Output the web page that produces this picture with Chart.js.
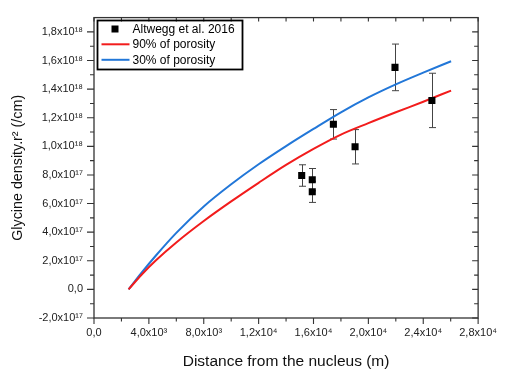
<!DOCTYPE html>
<html>
<head>
<meta charset="utf-8">
<script src="https://cdn.jsdelivr.net/npm/chart.js@4.4.1/dist/chart.umd.min.js"></script>
<style>
  html, body { margin: 0; padding: 0; background: #fff; }
  #wrap { width: 505px; height: 374px; }
</style>
</head>
<body>
<div id="wrap"><canvas id="c" width="505" height="374"></canvas></div>
<script>
// ---- data ----
const xTickValues = [0, 4000, 8000, 12000, 16000, 20000, 24000, 28000];
const xTickLabels = ['0,0', '4,0x10³', '8,0x10³', '1,2x10⁴', '1,6x10⁴', '2,0x10⁴', '2,4x10⁴', '2,8x10⁴'];
const yTickValues = [-2e17, 0, 2e17, 4e17, 6e17, 8e17, 1e18, 1.2e18, 1.4e18, 1.6e18, 1.8e18];
const yTickLabels = ['-2,0x10¹⁷', '0,0', '2,0x10¹⁷', '4,0x10¹⁷', '6,0x10¹⁷', '8,0x10¹⁷',
                     '1,0x10¹⁸', '1,2x10¹⁸', '1,4x10¹⁸', '1,6x10¹⁸', '1,8x10¹⁸'];

const obsX   = [15140, 15910, 15910, 17450, 19030, 21940, 24630];
const obsY   = [7.96e17, 7.67e17, 6.82e17, 11.54e17, 9.97e17, 15.52e17, 13.21e17];
const obsErr = [0.75e17, 0.78e17, 0.74e17, 1.03e17, 1.2e17, 1.63e17, 1.9e17];

const redX  = [2520, 3500, 4500, 6000, 8000, 10000, 12000, 14000, 16000, 18000, 20000, 22000, 24000, 26030];
const redY  = [0, 1.06e17, 2.02e17, 3.28e17, 4.78e17, 6.15e17, 7.45e17, 8.70e17, 9.82e17, 10.82e17, 11.62e17, 12.38e17, 13.12e17, 13.90e17];
const blueX = [2520, 3500, 4500, 6000, 8000, 10000, 12000, 14000, 16000, 18000, 20000, 22000, 24000, 26030];
const blueY = [0, 1.20e17, 2.35e17, 3.95e17, 5.80e17, 7.35e17, 8.75e17, 10.02e17, 11.22e17, 12.38e17, 13.42e17, 14.33e17, 15.15e17, 15.95e17];

const seriesLabels = ['Altwegg et al. 2016', '90% of porosity', '30% of porosity'];

const xMin = 0, xMax = 28000, yMin = -2e17, yMax = 1.9e18;

const pts = (xs, ys) => xs.map((x, i) => ({x: x, y: ys[i]}));

// ---- plugin: frame, minor / mirrored ticks, error bars, legend ----
const FONT = '"Liberation Sans", Arial, sans-serif';
const framePlugin = {
  id: 'frame',
  beforeDatasetsDraw(chart) {
    const ctx = chart.ctx, xs = chart.scales.x, ys = chart.scales.y;
    ctx.save();
    ctx.strokeStyle = '#444';
    ctx.lineWidth = 1;
    obsX.forEach((x, i) => {
      const px = Math.round(xs.getPixelForValue(x)) + 0.5;
      const top = ys.getPixelForValue(obsY[i] + obsErr[i]);
      const bot = ys.getPixelForValue(obsY[i] - obsErr[i]);
      ctx.beginPath();
      ctx.moveTo(px, top); ctx.lineTo(px, bot);
      ctx.moveTo(px - 3.5, top); ctx.lineTo(px + 3.5, top);
      ctx.moveTo(px - 3.5, bot); ctx.lineTo(px + 3.5, bot);
      ctx.stroke();
    });
    ctx.restore();
  },
  afterDraw(chart) {
    const ctx = chart.ctx, xs = chart.scales.x, ys = chart.scales.y;
    const a = chart.chartArea;
    ctx.save();
    ctx.strokeStyle = '#333';
    ctx.lineWidth = 1.3;
    ctx.strokeRect(a.left, a.top, a.right - a.left, a.bottom - a.top);
    ctx.lineWidth = 1.1;
    const tickX = (v, major) => {
      const p = xs.getPixelForValue(v);
      ctx.beginPath();
      ctx.moveTo(p, a.bottom); ctx.lineTo(p, a.bottom + (major ? 6 : 3.5));
      ctx.moveTo(p, a.top); ctx.lineTo(p, a.top + 4);
      ctx.stroke();
    };
    const tickY = (v, major) => {
      const p = ys.getPixelForValue(v);
      ctx.beginPath();
      ctx.moveTo(a.left, p); ctx.lineTo(a.left - (major ? 7 : 4), p);
      ctx.moveTo(a.right, p); ctx.lineTo(a.right - (major ? 6 : 4), p);
      ctx.stroke();
    };
    xTickValues.forEach((v, i) => {
      tickX(v, true);
      if (i < xTickValues.length - 1) tickX((v + xTickValues[i + 1]) / 2, false);
    });
    yTickValues.forEach((v, i) => {
      tickY(v, true);
      if (i < yTickValues.length - 1) tickY((v + yTickValues[i + 1]) / 2, false);
    });

    // legend
    const L = {x: 97.5, y: 20.5, w: 145, h: 49};
    ctx.lineWidth = 1.8;
    ctx.strokeStyle = '#000';
    ctx.strokeRect(L.x, L.y, L.w, L.h);
    ctx.font = '12px ' + FONT;
    ctx.fillStyle = '#000';
    ctx.textBaseline = 'alphabetic';
    ctx.textAlign = 'left';
    const ds = chart.data.datasets;
    const baselines = [33, 48.3, 63.8];
    ds.forEach((d, i) => {
      const cy = baselines[i] - 4;
      if (i === 0) {
        ctx.fillStyle = '#000';
        ctx.fillRect(115 - 3.5, cy - 3.5, 7, 7);
      } else {
        ctx.strokeStyle = d.borderColor;
        ctx.lineWidth = 2;
        ctx.beginPath();
        ctx.moveTo(101.5, cy); ctx.lineTo(129.5, cy);
        ctx.stroke();
      }
      ctx.fillStyle = '#000';
      ctx.fillText(d.label, 132.5, baselines[i]);
    });
    ctx.restore();
  }
};

new Chart(document.getElementById('c'), {
  type: 'scatter',
  data: {
    datasets: [
      {
        label: seriesLabels[0],
        data: pts(obsX, obsY),
        pointStyle: 'rect',
        pointRadius: 5,
        pointBackgroundColor: '#000',
        pointBorderColor: '#000',
        pointBorderWidth: 0,
        showLine: false
      },
      {
        label: seriesLabels[1],
        data: pts(redX, redY),
        showLine: true,
        borderColor: '#f21c1c',
        borderWidth: 2,
        pointRadius: 0,
        cubicInterpolationMode: 'monotone'
      },
      {
        label: seriesLabels[2],
        data: pts(blueX, blueY),
        showLine: true,
        borderColor: '#2277d8',
        borderWidth: 2,
        pointRadius: 0,
        cubicInterpolationMode: 'monotone'
      }
    ]
  },
  options: {
    responsive: false,
    animation: false,
    layout: { padding: { left: 0, top: 6, right: 22, bottom: 0 } },
    plugins: { legend: { display: false }, tooltip: { enabled: false } },
    scales: {
      x: {
        type: 'linear', min: xMin, max: xMax,
        afterBuildTicks: s => { s.ticks = xTickValues.map(v => ({value: v})); },
        afterFit: s => { s.height = 56; },
        grid: { display: false, drawTicks: false },
        border: { display: false },
        ticks: {
          padding: 8, color: '#222', maxRotation: 0, autoSkip: false,
          font: { family: FONT, size: 11 },
          callback: v => xTickLabels[xTickValues.indexOf(v)]
        },
        title: {
          display: true, text: 'Distance from the nucleus (m)', color: '#111',
          font: { family: FONT, size: 15.5 }, padding: { top: 0, bottom: 3 }
        }
      },
      y: {
        type: 'linear', min: yMin, max: yMax,
        afterBuildTicks: s => { s.ticks = yTickValues.map(v => ({value: v})); },
        afterFit: s => { s.width = 94; },
        grid: { display: false, drawTicks: false },
        border: { display: false },
        ticks: {
          padding: 11, color: '#222', autoSkip: false,
          font: { family: FONT, size: 11 },
          callback: v => yTickLabels[yTickValues.indexOf(v)]
        },
        title: {
          display: true, text: 'Glycine density.r² (/cm)', color: '#111',
          font: { family: FONT, size: 14.3 }, padding: { top: 9, bottom: 0 }
        }
      }
    }
  },
  plugins: [framePlugin]
});
</script>
</body>
</html>
